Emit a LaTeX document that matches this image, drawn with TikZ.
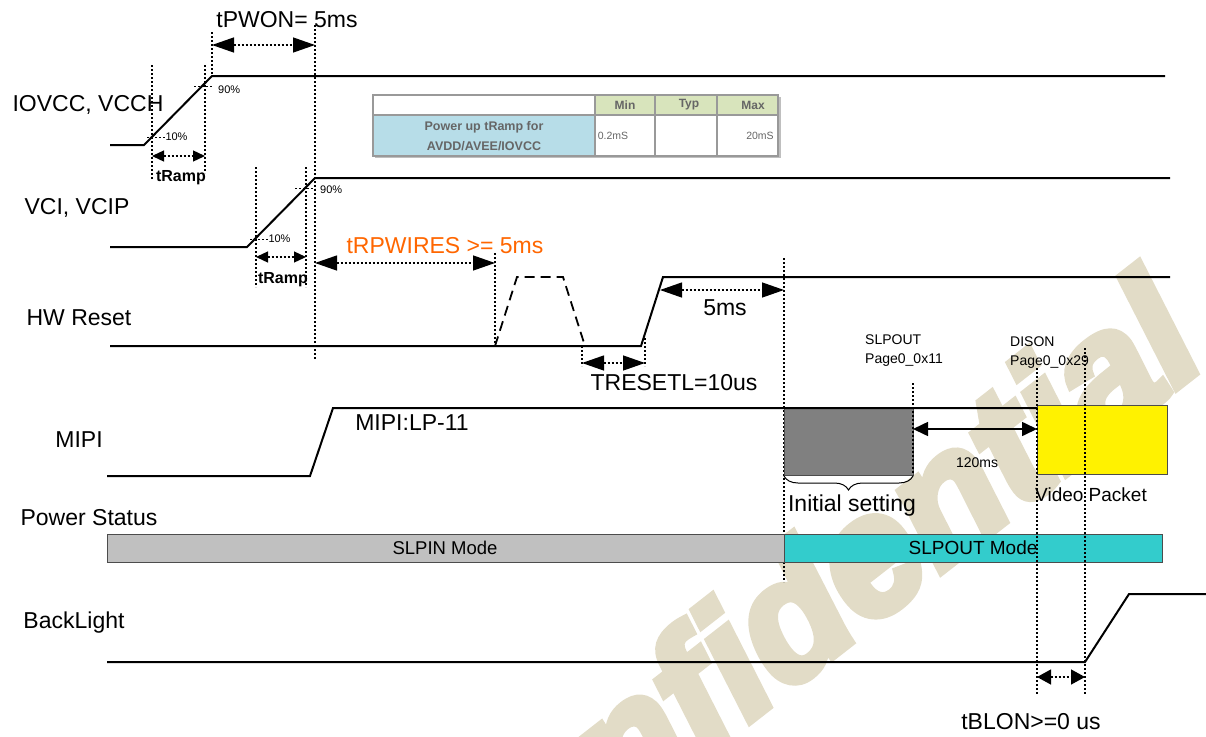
\documentclass[tikz,border=0pt]{standalone}
\usepackage{fontspec}
\setmainfont{Liberation Sans}
\newfontfamily\wmfont[FakeBold=5]{Liberation Sans}
\usepackage{tikz}
\usetikzlibrary{arrows.meta,decorations.pathreplacing}
\usepackage{xcolor}
\definecolor{wmark}{RGB}{226,220,199}
\definecolor{orangetext}{RGB}{255,102,0}
\definecolor{slpin}{RGB}{192,192,192}
\definecolor{slpout}{RGB}{51,204,204}
\definecolor{hdrcell}{RGB}{216,228,188}
\definecolor{bluecell}{RGB}{183,221,232}
\tikzset{
  sig/.style={line width=2pt},
  guide/.style={line width=1.3pt, dash pattern=on 2pt off 2pt},
  bigdim/.style={guide, {Triangle[length=22pt,width=15pt]}-{Triangle[length=22pt,width=15pt]}},
  smalldim/.style={guide, {Triangle[length=12pt,width=11pt]}-{Triangle[length=12pt,width=11pt]}},
  lbl/.style={font=\fontsize{23}{27}\selectfont, inner sep=0pt},
  pct/.style={font=\fontsize{11}{13}\selectfont, inner sep=0pt, anchor=west},
  ramplbl/.style={font=\fontsize{16}{18}\selectfont\bfseries, inner sep=0pt},
  cmd/.style={font=\fontsize{14}{19}\selectfont, inner sep=0pt, anchor=north west, align=left},
  tbl/.style={font=\fontsize{10.5}{12}\selectfont, text=black!60, inner sep=0pt}
}
\begin{document}
\begin{tikzpicture}[x=1pt,y=-1pt]
\useasboundingbox (0,0) rectangle (1206,736);
\node [rotate=38, text=wmark, font=\fontsize{168}{168}\wmfont\bfseries\itshape] (wm) at (792,612) {Confidential};

\node [lbl] (iovcc) at (88,105) {IOVCC, VCCH};
\node [lbl] (vci) at (77,208) {VCI, VCIP};
\node [lbl] (hwrst) at (79,318) {HW Reset};
\node [lbl] (mipi) at (79,440) {MIPI};
\node [lbl] (pwrst) at (89,518) {Power Status};
\node [lbl] (blight) at (74,623) {BackLight};

\draw [sig]
    (110,145) coordinate (A0) --
    (144,145) coordinate (A1) --
    (212,76) coordinate (A2) --
    (1165,76) coordinate (A3);
\draw [guide] (152,65) coordinate (A10t) -- (152,180) coordinate (A10b);
\draw [guide] (205,65) coordinate (A90t) -- (205,173) coordinate (A90b);
\draw [guide] (212,32) coordinate (Ptop) -- (A2);
\draw [guide] (315,25) coordinate (Qtop) -- (315,360) coordinate (Qbot);
\draw [guide, line width=1pt] (147,137) -- (165,137) node [pct] {10\%};
\draw [guide, line width=1pt] (194,86) -- (213,86);
\node [pct] at (218,90) {90\%};
\draw [smalldim] (152,156) coordinate (R1a) -- (205,156) coordinate (R1b);
\node [ramplbl] (ramp1) at (181,178) {tRamp};
\draw [bigdim] (212,45) coordinate (P1) -- (315,45) coordinate (P2);
\node [lbl] (tpwon) at (287,20) {tPWON= 5ms};

\draw [sig]
    (110,247) coordinate (B0) --
    (247,247) coordinate (B1) --
    (315,178) coordinate (B2) --
    (1170,178) coordinate (B3);
\draw [guide] (256,167) -- (256,287);
\draw [guide] (306,167) -- (306,287);
\draw [guide, line width=1pt] (250,239) -- (268,239) node [pct] {10\%};
\draw [guide, line width=1pt] (295,188) -- (315,188);
\node [pct] at (320,190) {90\%};
\draw [smalldim] (256,257) coordinate (R2a) -- (306,257) coordinate (R2b);
\node [ramplbl] (ramp2) at (283,280) {tRamp};

\draw [bigdim] (315,263) coordinate (W1) -- (495,263) coordinate (W2);
\node [lbl, text=orangetext] (trpw) at (445,246) {tRPWIRES >= 5ms};
\draw [guide] (495,253) -- (495,347);

\draw [sig]
    (110,346) coordinate (C0) --
    (641,346) coordinate (C1) --
    (663,277) coordinate (C2) --
    (1170,277) coordinate (C3);
\draw [sig, line width=1.8pt, dash pattern=on 10pt off 6pt]
    (495,346) -- (517,277) -- (563,277) -- (585,346);
\draw [guide] (582,346) -- (582,366);
\draw [guide] (645,338) -- (645,366);
\draw [bigdim] (582,363) coordinate (T1) -- (645,363) coordinate (T2);
\node [lbl] (treset) at (674,383) {TRESETL=10us};
\draw [bigdim] (660,290) coordinate (F1) -- (784,290) coordinate (F2);
\node [lbl] (fivems) at (725,308) {5ms};
\draw [guide] (784,258) -- (784,582);

\draw [fill=black!50, draw=black!70, line width=1pt] (784,408) rectangle (913,475);
\draw [fill=yellow, draw=black!70, line width=1pt] (1037,405) rectangle (1167,474);
\draw [sig]
    (107,476) coordinate (D0) --
    (310,476) coordinate (D1) --
    (333,408) coordinate (D2) --
    (1037,408) coordinate (D3);
\node [lbl] (lp11) at (412,423) {MIPI:LP-11};
\draw [guide] (913,383) -- (913,475);
\draw [line width=1.6pt, {Triangle[length=15pt,width=14pt]}-{Triangle[length=15pt,width=14pt]}]
    (913,429) coordinate (S1) -- (1037,429) coordinate (S2);
\node [font=\fontsize{14}{16}\selectfont, inner sep=0pt] (d120) at (977,463) {120ms};
\draw [line width=1pt, decorate,
    decoration={brace, mirror, amplitude=14pt}] (784,476) -- (913,476);
\node [lbl] (initset) at (852,506) {Initial setting};
\node [font=\fontsize{19}{22}\selectfont, inner sep=0pt] (vpkt) at (1091,495) {Video Packet};
\node [cmd] (slpoutcmd) at (865,335) {SLPOUT\\Page0\_0x11};
\node [cmd] (disoncmd) at (1010,337) {DISON\\Page0\_0x29};

\draw [fill=slpin, draw=black!70, line width=1pt] (107,534) rectangle (784,562);
\draw [fill=slpout, draw=black!70, line width=1pt] (784,534) rectangle (1162,562);
\node [font=\fontsize{18.5}{22}\selectfont, inner sep=0pt] (slpin) at (445,548) {SLPIN Mode};
\node [font=\fontsize{19}{22}\selectfont, inner sep=0pt] (slpoutm) at (973,548) {SLPOUT Mode};

\draw [guide] (1037,368) -- (1037,695);
\draw [guide] (1085,348) -- (1085,695);

\draw [sig]
    (107,662) coordinate (E0) --
    (1085,662) coordinate (E1) --
    (1129,594) coordinate (E2) --
    (1206,594) coordinate (E3);
\draw [smalldim, {Triangle[length=14pt,width=15pt]}-{Triangle[length=14pt,width=15pt]}]
    (1037,677) coordinate (L1) -- (1085,677) coordinate (L2);
\node [lbl] (tblon) at (1031,722) {tBLON>=0 us};

\fill [black!25] (375,97) rectangle (781,158);
\fill [white] (373,95) rectangle (595,115);
\fill [hdrcell] (595,95) rectangle (778,115);
\fill [bluecell] (373,115) rectangle (595,156);
\fill [white] (595,115) rectangle (778,156);
\draw [black!40, line width=1.2pt] (373,95) rectangle (778,156)
    (373,115) -- (778,115)
    (595,95) -- (595,156)
    (655,95) -- (655,156)
    (717,95) -- (717,156);
\node [tbl, font=\fontsize{12}{14}\selectfont\bfseries] (tmin) at (625,105) {Min};
\node [tbl, font=\fontsize{12}{14}\selectfont\bfseries] (ttyp) at (689,105) {Typ};
\node [tbl, font=\fontsize{12}{14}\selectfont\bfseries] (tmax) at (753,105) {Max};
\node [tbl, align=center, font=\fontsize{12.5}{20}\selectfont\bfseries] (tdesc) at (484,136) {Power up tRamp for\\AVDD/AVEE/IOVCC};
\node [tbl] (tv1) at (613,136) {0.2mS};
\node [tbl] (tv2) at (760,136) {20mS};
\end{tikzpicture}
\end{document}
